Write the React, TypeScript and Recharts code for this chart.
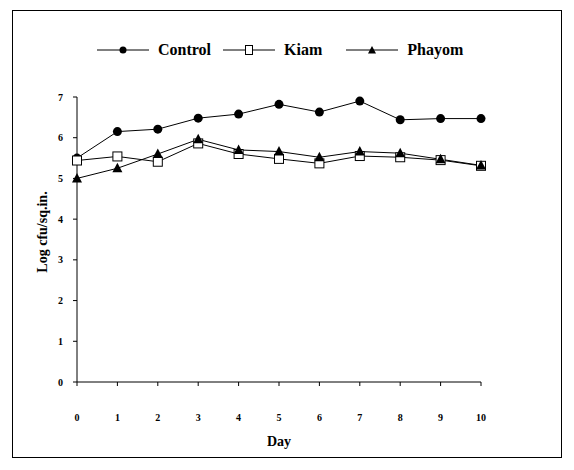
import { Line, LineChart, XAxis, YAxis } from 'recharts'

const days = [0, 1, 2, 3, 4, 5, 6, 7, 8, 9, 10]
const control = [5.5, 6.15, 6.21, 6.48, 6.58, 6.82, 6.63, 6.9, 6.44, 6.47, 6.47]
const kiam = [5.44, 5.54, 5.41, 5.86, 5.6, 5.48, 5.37, 5.55, 5.52, 5.45, 5.31]
const phayom = [5.0, 5.25, 5.6, 5.96, 5.7, 5.66, 5.52, 5.66, 5.62, 5.47, 5.32]
const yTicks = [0, 1, 2, 3, 4, 5, 6, 7]

const data = days.map((d, i) => ({
  day: d,
  control: control[i],
  kiam: kiam[i],
  phayom: phayom[i],
}))

const FONT = '"Liberation Serif", "DejaVu Serif", serif'

const CircleDot = (p: any) =>
  p.cx == null ? null : <circle key={`c-${p.index}`} cx={p.cx} cy={p.cy} r={4.5} fill="#000" />

const SquareDot = (p: any) =>
  p.cx == null ? null : (
    <rect key={`s-${p.index}`} x={p.cx - 4.5} y={p.cy - 4.5} width={9} height={9} fill="#fff" stroke="#000" strokeWidth={1} />
  )

const TriDot = (p: any) =>
  p.cx == null ? null : (
    <path key={`t-${p.index}`} d={`M${p.cx},${p.cy - 5.5} L${p.cx + 5},${p.cy + 4} L${p.cx - 5},${p.cy + 4} Z`} fill="#000" />
  )

function LegendItem({ label, marker, gap }: { label: string; marker: string; gap: number }) {
  return (
    <span style={{ display: 'inline-flex', alignItems: 'center', marginRight: gap }}>
      <svg width={52} height={12} style={{ marginRight: 9 }}>
        <line x1={0} y1={6} x2={52} y2={6} stroke="#000" strokeWidth={1} />
        {marker === 'circle' && <circle cx={26} cy={6} r={3.5} fill="#000" />}
        {marker === 'square' && <rect x={22.5} y={1.5} width={7} height={9} fill="#fff" stroke="#000" />}
        {marker === 'tri' && <path d="M26,2 L30,9.5 L22,9.5 Z" fill="#000" />}
      </svg>
      <span style={{ fontFamily: FONT, fontWeight: 'bold', fontSize: 16 }}>{label}</span>
    </span>
  )
}

export default function App() {
  const tick = { fontFamily: FONT, fontWeight: 'bold', fontSize: 10, fill: '#000' }
  return (
    <div style={{ position: 'absolute', left: 0, top: 0, width: 574, height: 470, background: '#fff' }}>
      <div
        style={{
          position: 'absolute',
          left: 12,
          top: 10,
          width: 550,
          height: 448,
          border: '1px solid #000',
          boxSizing: 'border-box',
        }}
      />
      <div style={{ position: 'absolute', left: 97, top: 41, display: 'flex' }}>
        <LegendItem label="Control" marker="circle" gap={12} />
        <LegendItem label="Kiam" marker="square" gap={24} />
        <LegendItem label="Phayom" marker="tri" gap={0} />
      </div>
      <LineChart
        width={574}
        height={470}
        data={data}
        margin={{ top: 97, right: 93, bottom: 18, left: 37 }}
        style={{ position: 'absolute', left: 0, top: 0 }}
      >
        <XAxis
          dataKey="day"
          type="number"
          domain={[0, 10]}
          ticks={days}
          height={70}
          tickSize={4}
          tickMargin={28}
          tick={tick}
          stroke="#000"
          label={{
            value: 'Day',
            position: 'insideBottom',
            offset: 6,
            style: { fontFamily: FONT, fontWeight: 'bold', fontSize: 14, fill: '#000' },
          }}
        />
        <YAxis
          type="number"
          domain={[0, 7]}
          ticks={yTicks}
          width={40}
          tickSize={4}
          tickMargin={10}
          tick={tick}
          stroke="#000"
          label={{
            content: () => (
              <text
                x={42}
                y={232}
                transform="rotate(-90 42 232)"
                textAnchor="middle"
                dominantBaseline="central"
                style={{ fontFamily: FONT, fontWeight: 'bold', fontSize: 14, fill: '#000' }}
              >
                Log cfu/sq.in.
              </text>
            ),
          }}
        />
        <Line dataKey="control" stroke="#000" strokeWidth={1} dot={CircleDot} isAnimationActive={false} />
        <Line dataKey="kiam" stroke="#000" strokeWidth={1} dot={SquareDot} isAnimationActive={false} />
        <Line dataKey="phayom" stroke="#000" strokeWidth={1} dot={TriDot} isAnimationActive={false} />
      </LineChart>
    </div>
  )
}
